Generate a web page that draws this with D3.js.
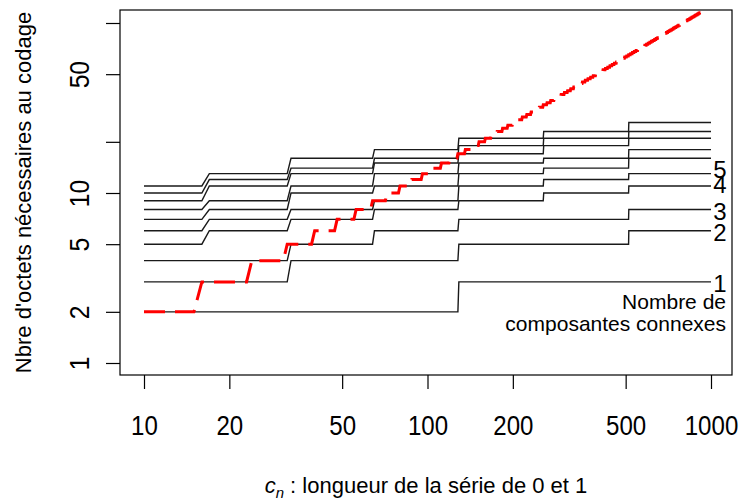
<!DOCTYPE html>
<html><head><meta charset="utf-8">
<script src="https://cdn.jsdelivr.net/npm/d3@7"></script>
<style>
body{margin:0;background:#fff}
text{font-family:"Liberation Sans",Arial,Helvetica,sans-serif;fill:#000}
</style>
</head><body>
<svg id="chart" width="741" height="500"></svg>
<script>
// ---- data ----
const xTicks = [10, 20, 50, 100, 200, 500, 1000];
const xTickLabels = ["10", "20", "50", "100", "200", "500", "1000"];
const yTicks = [1, 2, 5, 10, 20, 50, 100];
const yTickLabels = ["1", "2", "5", "10", "", "50", ""];

// step segments of the black curves (length of the series)
const segStart = [10, 17, 33, 65, 129, 257, 513];
const segEnd   = [16, 32, 64, 128, 256, 512, 1000];
// bytes needed, one array per number of connected components
const comp1  = [2, 2, 2, 2, 3, 3, 3];
const comp2  = [3, 3, 4, 4, 5, 5, 6];
const comp3  = [4, 4, 5, 6, 7, 7, 8];
const comp4  = [5, 6, 7, 8, 9, 10, 11];
const comp5  = [6, 7, 8, 9, 11, 12, 13];
const comp6  = [7, 8, 10, 11, 13, 14, 16];
const comp7  = [8, 9, 11, 13, 15, 16, 18];
const comp8  = [9, 11, 13, 15, 17, 19, 21];
const comp9  = [10, 12, 14, 16, 19, 21, 23];
const comp10 = [11, 13, 16, 18, 21, 23, 26];
const blackSeries = [comp1, comp2, comp3, comp4, comp5, comp6, comp7, comp8, comp9, comp10];

// red dashed curve: series length where each level starts, and level
const redStart = [10, 16, 24, 32, 40, 48, 56, 64, 72, 80, 88, 96, 104, 112, 120, 128, 136, 144, 152, 160,
  168, 176, 184, 192, 200, 208, 216, 224, 232, 240, 248, 256, 264, 272, 280, 288, 296, 304, 312, 320,
  328, 336, 344, 352, 360, 368, 376, 384, 392, 400, 408, 416, 424, 432, 440, 448, 456, 464, 472, 480,
  488, 496, 504, 512, 520, 528, 536, 544, 552, 560, 568, 576, 584, 592, 600, 608, 616, 624, 632, 640,
  648, 656, 664, 672, 680, 688, 696, 704, 712, 720, 728, 736, 744, 752, 760, 768, 776, 784, 792, 800,
  808, 816, 824, 832, 840, 848, 856, 864, 872, 880, 888, 896, 904, 912, 920, 928, 936, 944, 952, 960,
  968, 976, 984, 992, 1000];
const redValue = [2, 3, 4, 5, 6, 7, 8, 9, 10, 11, 12, 13, 14, 15, 16, 17, 18, 19, 20, 21,
  22, 23, 24, 25, 26, 27, 28, 29, 30, 31, 32, 33, 34, 35, 36, 37, 38, 39, 40, 41,
  42, 43, 44, 45, 46, 47, 48, 49, 50, 51, 52, 53, 54, 55, 56, 57, 58, 59, 60, 61,
  62, 63, 64, 65, 66, 67, 68, 69, 70, 71, 72, 73, 74, 75, 76, 77, 78, 79, 80, 81,
  82, 83, 84, 85, 86, 87, 88, 89, 90, 91, 92, 93, 94, 95, 96, 97, 98, 99, 100, 101,
  102, 103, 104, 105, 106, 107, 108, 109, 110, 111, 112, 113, 114, 115, 116, 117, 118, 119, 120, 121,
  122, 123, 124, 125, 126];

const curveLabels = ["1", "2", "3", "4", "5"];
const curveLabelValues = [2.92, 5.82, 7.76, 11.2, 13.66];
const noteLines = ["Nombre de", "composantes connexes"];
const yTitle = "Nbre d'octets nécessaires au codage";
const xTitleMain = "c";
const xTitleSub = "n";
const xTitleRest = " : longueur de la série de 0 et 1";

// ---- layout ----
const box = {left: 120, top: 10, right: 732, bottom: 375};
const svg = d3.select("#chart");

const x = d3.scaleLog().domain([10, 1000]).range([144, 711]);
const y = d3.scaleLog().domain([1, 100]).range([363, 23]);

svg.append("defs").append("clipPath").attr("id", "plotclip")
  .append("rect").attr("x", box.left).attr("y", box.top)
  .attr("width", box.right - box.left).attr("height", box.bottom - box.top);

const plot = svg.append("g").attr("clip-path", "url(#plotclip)");
const line = d3.line().x(d => x(d[0])).y(d => y(d[1]));

// black curves
blackSeries.forEach(vals => {
  const pts = [];
  vals.forEach((v, i) => { pts.push([segStart[i], v]); pts.push([segEnd[i], v]); });
  plot.append("path").attr("d", line(pts))
    .attr("fill", "none").attr("stroke", "#1a1a1a").attr("stroke-width", 1.4);
});

// red dashed curve
const redPts = [];
redValue.forEach((v, i) => {
  redPts.push([redStart[i], v]);
  if (i < redValue.length - 1) redPts.push([redStart[i + 1] - 1, v]);
});
plot.append("path").attr("d", line(redPts))
  .attr("fill", "none").attr("stroke", "#ff0000").attr("stroke-width", 3)
  .attr("stroke-dasharray", "21,10");

// box
svg.append("rect").attr("x", box.left).attr("y", box.top)
  .attr("width", box.right - box.left).attr("height", box.bottom - box.top)
  .attr("fill", "none").attr("stroke", "#000").attr("stroke-width", 1.2);

// x axis
const xAxis = d3.axisBottom(x).tickValues(xTicks).tickSize(14)
  .tickFormat((d, i) => xTickLabels[i]);
const gx = svg.append("g").attr("transform", `translate(0,${box.bottom})`).call(xAxis);
gx.select(".domain").remove();
gx.selectAll(".tick line").attr("stroke", "#000").attr("stroke-width", 1.2);
gx.selectAll(".tick text").attr("y", 0).attr("dy", null)
  .attr("font-size", 28).attr("font-family", "Liberation Sans")
  .attr("transform", "translate(0,60) scale(0.86,1)");

// y axis
const yAxis = d3.axisLeft(y).tickValues(yTicks).tickSize(14)
  .tickFormat((d, i) => yTickLabels[i]);
const gy = svg.append("g").attr("transform", `translate(${box.left},0)`).call(yAxis);
gy.select(".domain").remove();
gy.selectAll(".tick line").attr("stroke", "#000").attr("stroke-width", 1.2);
gy.selectAll(".tick text").attr("x", 0).attr("dy", null)
  .attr("text-anchor", "middle").attr("font-size", 28).attr("font-family", "Liberation Sans")
  .attr("transform", "translate(-31,0) rotate(-90) scale(0.88,1)");

// curve labels
svg.selectAll("text.clab").data(curveLabels).enter().append("text")
  .attr("class", "clab")
  .attr("x", x(1000) + 9)
  .attr("y", (d, i) => y(curveLabelValues[i]))
  .attr("text-anchor", "middle").attr("dominant-baseline", "central")
  .attr("font-size", 24)
  .text(d => d);

// note
svg.selectAll("text.note").data(noteLines).enter().append("text")
  .attr("class", "note")
  .attr("x", 726).attr("y", (d, i) => 309 + i * 22)
  .attr("text-anchor", "end").attr("font-size", 21)
  .text(d => d);

// y title
svg.append("text")
  .attr("transform", `translate(31,${(box.top + box.bottom) / 2}) rotate(-90)`)
  .attr("text-anchor", "middle").attr("font-size", 22)
  .text(yTitle);

// x title
const xt = svg.append("text")
  .attr("x", (box.left + box.right) / 2).attr("y", 493)
  .attr("text-anchor", "middle").attr("font-size", 22);
xt.append("tspan").attr("font-style", "italic").text(xTitleMain);
xt.append("tspan").attr("font-style", "italic").attr("font-size", 15).attr("dy", 5).text(xTitleSub);
xt.append("tspan").attr("dy", -5).text(xTitleRest);
</script>
</body></html>
